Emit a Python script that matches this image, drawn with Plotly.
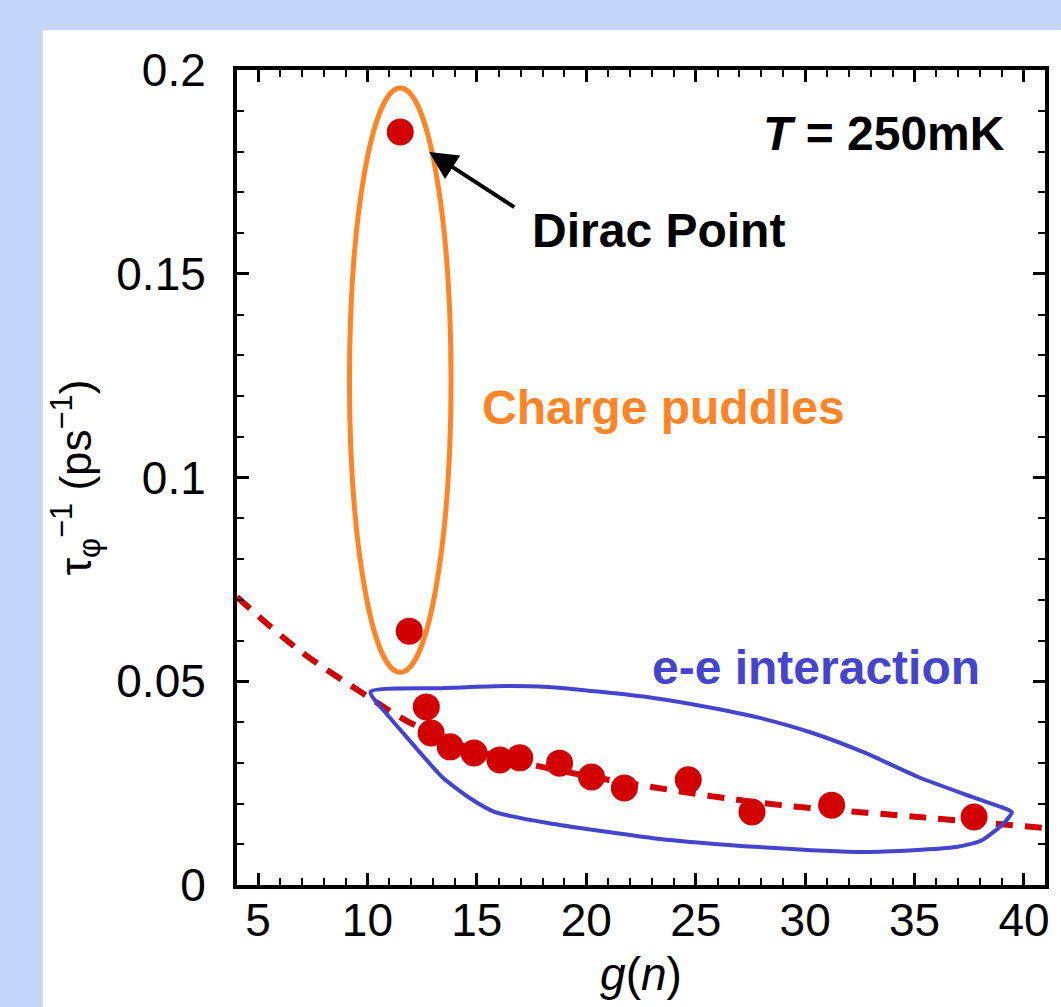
import numpy as np
import plotly.graph_objects as go

# ---- data ----
g_vals = [11.50, 11.91, 12.69, 12.91, 13.78, 14.87, 16.05, 16.96, 18.78, 20.24, 21.74, 24.66, 27.57, 31.21, 37.72]
tau_vals = [0.1848, 0.0623, 0.0437, 0.0373, 0.0339, 0.0324, 0.0307, 0.0312, 0.0299, 0.0265, 0.0238, 0.0258, 0.0179, 0.0196, 0.0167]

fit_g = [4.04, 6.86, 9.54, 11.96, 14.64, 17.37, 20.10, 23.06, 25.98, 28.89, 35.17, 40.95]
fit_tau = [0.0707, 0.0577, 0.0479, 0.0398, 0.0336, 0.0297, 0.0267, 0.0240, 0.0216, 0.0196, 0.0167, 0.0140]

# e-e interaction outline (data coordinates)
ee_g = [10.14, 13.41, 15.83, 18.24, 20.65, 23.06, 25.52, 27.93, 30.34, 32.75, 35.17, 37.63, 39.31, 39.45,
        39.09, 38.08, 36.90, 32.76, 27.93, 23.06, 18.24, 15.83, 14.60, 13.41, 12.18, 11.00, 10.14]
ee_tau = [0.0474, 0.0483, 0.0488, 0.0486, 0.0474, 0.0459, 0.0437, 0.0410, 0.0373, 0.0324, 0.0265, 0.0216, 0.0184, 0.0179,
          0.0152, 0.0110, 0.0093, 0.0081, 0.0093, 0.0115, 0.0152, 0.0179, 0.0216, 0.0265, 0.0339, 0.0412, 0.0474]

x_ticks = [5, 10, 15, 20, 25, 30, 35, 40]
y_ticks = [0, 0.05, 0.1, 0.15, 0.2]
y_tick_text = ["0", "0.05", "0.1", "0.15", "0.2"]

RED = "#d20000"
ORANGE = "#ff8426"
BLUE = "#4444cc"
BG = "#c5d7f8"
FONT = "Liberation Sans, Arial, sans-serif"

fig = go.Figure()

fig.add_trace(go.Scatter(x=fit_g, y=fit_tau, mode="lines",
                         line=dict(color=RED, width=6, dash="17px,12px", shape="spline", smoothing=1.0),
                         hoverinfo="skip", showlegend=False))
fig.add_trace(go.Scatter(x=g_vals, y=tau_vals, mode="markers",
                         marker=dict(color=RED, size=27, line=dict(width=0)),
                         showlegend=False))
fig.add_trace(go.Scatter(x=ee_g, y=ee_tau, mode="lines",
                         line=dict(color=BLUE, width=4, shape="spline", smoothing=0.6),
                         hoverinfo="skip", showlegend=False))

# charge puddles ellipse
fig.add_shape(type="circle", xref="x", yref="y", x0=9.18, x1=13.82, y0=0.0522, y1=0.1956,
              line=dict(color=ORANGE, width=5))

# white panel on blue background
fig.add_shape(type="rect", xref="paper", yref="paper", x0=-0.2404, x1=1.03, y0=-0.17, y1=1.049,
              fillcolor="white", line=dict(width=0), layer="below")

# annotations
fig.add_annotation(x=12.82, y=0.1799, ax=16.78, ay=0.1661, xref="x", yref="y", axref="x", ayref="y",
                   text="", showarrow=True, arrowhead=2, arrowsize=1.4, arrowwidth=4, arrowcolor="black")
fig.add_annotation(x=23.29, y=0.1607, text="<b>Dirac Point</b>", showarrow=False,
                   font=dict(family=FONT, size=48, color="black"))
fig.add_annotation(x=33.62, y=0.1845, text="<b><i>T</i> = 250mK</b>", showarrow=False,
                   font=dict(family=FONT, size=48, color="black"))
fig.add_annotation(x=23.52, y=0.1171, text="<b>Charge puddles</b>", showarrow=False,
                   font=dict(family=FONT, size=48, color=ORANGE))
fig.add_annotation(x=30.48, y=0.0533, text="<b>e-e interaction</b>", showarrow=False,
                   font=dict(family=FONT, size=48, color=BLUE))

fig.update_layout(
    width=1061, height=1007,
    margin=dict(l=237, r=13, t=70, b=122),
    paper_bgcolor=BG,
    plot_bgcolor="white",
    font=dict(family=FONT, color="black"),
    showlegend=False,
)

fig.update_xaxes(range=[4.04, 40.96], tickvals=x_ticks, ticks="inside", ticklen=12, tickwidth=3,
                 tickcolor="black", showline=True, linewidth=4, linecolor="black", mirror="ticks",
                 showgrid=False, zeroline=False,
                 minor=dict(dtick=1, tick0=0, ticks="inside", ticklen=7, tickwidth=2, tickcolor="black"),
                 tickfont=dict(family=FONT, size=46, color="black"), ticklabelstandoff=-8,
                 title=dict(text="<i>g</i>(<i>n</i>)", font=dict(family=FONT, size=46, color="black"), standoff=14))
fig.update_yaxes(range=[0, 0.2], tickvals=y_ticks, ticktext=y_tick_text, ticks="inside", ticklen=12, tickwidth=3,
                 tickcolor="black", showline=True, linewidth=4, linecolor="black", mirror="ticks",
                 showgrid=False, zeroline=False,
                 minor=dict(dtick=0.01, tick0=0, ticks="inside", ticklen=7, tickwidth=2, tickcolor="black"),
                 tickfont=dict(family=FONT, size=46, color="black"), ticklabelstandoff=18,
                 title=dict(text="τ<sub>φ</sub><sup>−1</sup> (ps<sup>−1</sup>)",
                            font=dict(family=FONT, size=44, color="black"), standoff=12))

fig.write_html("out.html", config={"displayModeBar": False},
               post_script="document.body.style.margin='0';document.body.style.padding='0';"
                           "document.body.style.overflow='hidden';document.body.style.background='" + BG + "';")
